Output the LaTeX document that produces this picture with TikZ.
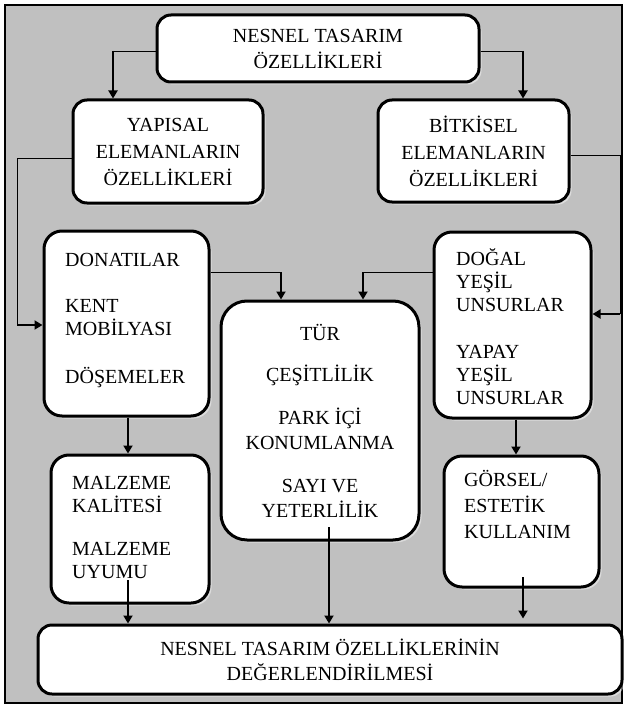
\documentclass[tikz,border=0pt]{standalone}
\usepackage{fontspec}
\setmainfont{Liberation Serif}
\usetikzlibrary{arrows.meta,shadows}
\definecolor{bgray}{HTML}{C0C0C0}
\begin{document}
\begin{tikzpicture}[x=1pt,y=-1pt,
  box/.style={draw=black, line width=3pt, fill=white, rounded corners=14pt,
    inner sep=0pt, align=center, font=\fontsize{20}{25}\selectfont,
    drop shadow={shadow xshift=2.5pt, shadow yshift=-2.5pt, fill=white, opacity=0.45}},
  txt/.style={inner sep=0pt, align=left, anchor=north west, font=\fontsize{20}{23}\selectfont},
  thinline/.style={line width=0.9pt},
  arr/.style={line width=1.8pt, -{Triangle[length=8pt,width=9pt]}},
]
\path[use as bounding box] (0,0) rectangle (626,706);
\draw[line width=2pt, fill=bgray] (5,5) rectangle (622,703);

% boxes
\node[box, minimum width=322pt, minimum height=67pt] (top) at (318,48.5) {NESNEL TASARIM\\[1pt]ÖZELLİKLERİ};
\node[box, minimum width=190pt, minimum height=103pt] (yap) at (168,151.5) {YAPISAL\\[2pt]ELEMANLARIN\\[2pt]ÖZELLİKLERİ};
\node[box, minimum width=191pt, minimum height=102pt] (bit) at (473.5,151) {BİTKİSEL\\[2pt]ELEMANLARIN\\[2pt]ÖZELLİKLERİ};
\node[box, minimum width=165pt, minimum height=185pt, rounded corners=18pt] (don) at (126.5,323.5) {};
\node[box, minimum width=157pt, minimum height=186pt, rounded corners=18pt] (dog) at (512.5,325) {};
\node[box, minimum width=198pt, minimum height=239pt, rounded corners=26pt] (tur) at (320,420.5)
  {TÜR\\[16pt]ÇEŞİTLİLİK\\[18pt]PARK İÇİ\\KONUMLANMA\\[18pt]SAYI VE\\YETERLİLİK};
\node[box, minimum width=158pt, minimum height=148pt, rounded corners=18pt] (mal) at (130,529) {};
\node[box, minimum width=155pt, minimum height=131pt, rounded corners=18pt] (gor) at (521.5,521.5) {};
\node[box, minimum width=584pt, minimum height=69pt] (bot) at (330,659.5) {NESNEL TASARIM ÖZELLİKLERİNİN\\DEĞERLENDİRİLMESİ};

% left-aligned texts
\node[txt] (dontxt) at (65,248.6) {\rule{0pt}{18pt}DONATILAR\\[23pt]KENT\\MOBİLYASI\\[25pt]DÖŞEMELER};
\node[txt] (dogtxt) at (456,247.6) {\rule{0pt}{18pt}DOĞAL\\YEŞİL\\UNSURLAR\\[24pt]YAPAY\\YEŞİL\\UNSURLAR};
\node[txt] (maltxt) at (72,471.6) {\rule{0pt}{18pt}MALZEME\\KALİTESİ\\[20pt]MALZEME\\UYUMU};
\node[txt] (gortxt) at (464,468.6) {\rule{0pt}{18pt}GÖRSEL/\\[3pt]ESTETİK\\[3pt]KULLANIM};

% connector coordinates
\coordinate (c1) at (113,51);
\coordinate (c2) at (523,51);
\coordinate (c3) at (17,158);
\coordinate (c4) at (17,325);
\coordinate (c5) at (620,155);
\coordinate (c6) at (620,314);
\coordinate (c7) at (281,272);
\coordinate (c8) at (363,272);
\coordinate (c9) at (128,0);
\coordinate (c10) at (516,0);
\coordinate (c11) at (128,580);
\coordinate (c12) at (329,527);
\coordinate (c13) at (523,577);

% connectors
\draw[thinline] (top.west |- c1) -- (c1);
\draw[arr] (c1) -- (c1 |- yap.north);
\draw[thinline] (top.east |- c2) -- (c2);
\draw[arr] (c2) -- (c2 |- bit.north);
\draw[thinline] (yap.west |- c3) -- (c3) -- (c4);
\draw[arr] (c4) -- (c4 -| don.west);
\draw[thinline] (bit.east |- c5) -- (c5) -- (c6);
\draw[arr] (c6) -- (c6 -| dog.east);
\draw[thinline] (don.east |- c7) -- (c7);
\draw[arr] (c7) -- (c7 |- tur.north);
\draw[thinline] (dog.west |- c8) -- (c8);
\draw[arr] (c8) -- (c8 |- tur.north);
\draw[arr] (don.south -| c9) -- (mal.north -| c9);
\draw[arr] (dog.south -| c10) -- (gor.north -| c10);
\draw[arr] (c11) -- (c11 |- bot.north);
\draw[arr] (c12) -- (c12 |- bot.north);
\draw[arr, shorten >=5pt] (c13) -- (c13 |- bot.north);
\end{tikzpicture}
\end{document}
